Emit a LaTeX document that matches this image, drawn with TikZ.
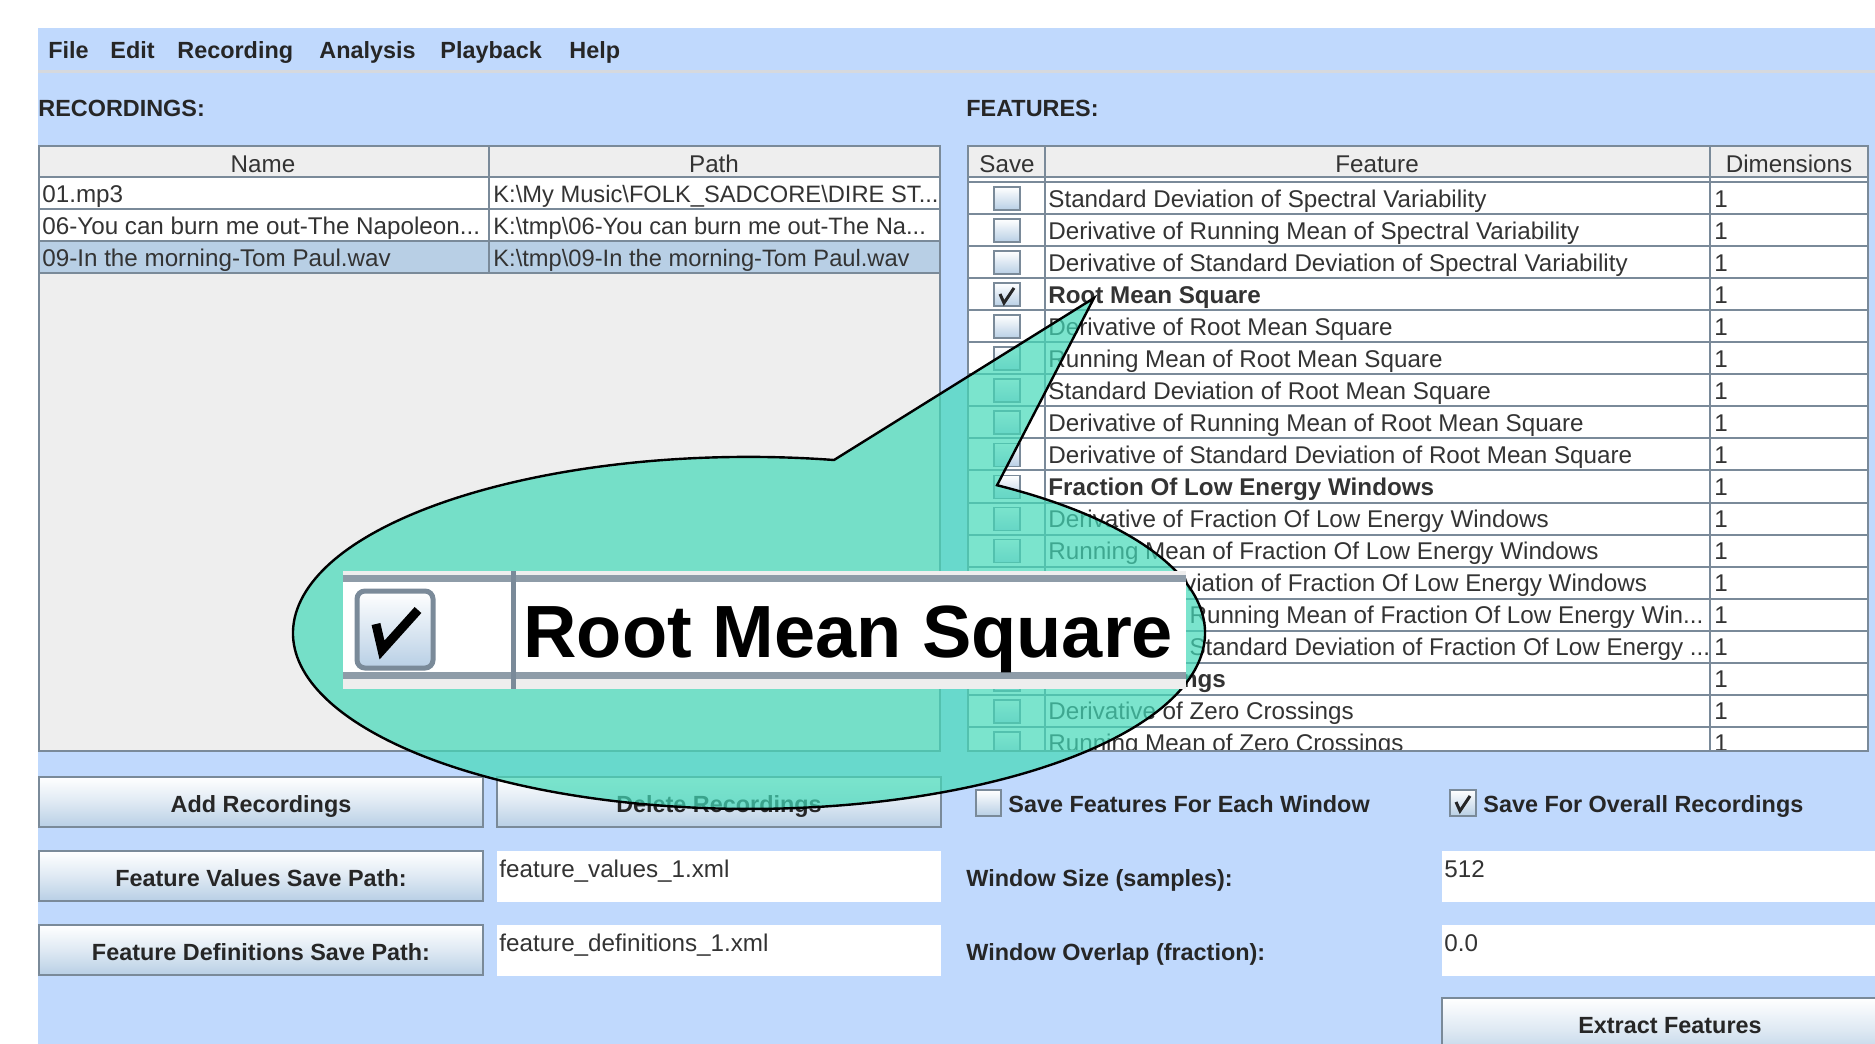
\documentclass[tikz,border=0pt]{standalone}
\usepackage{fontspec}
\setmainfont{Liberation Sans}

\definecolor{panelblue}{RGB}{192,217,253}
\definecolor{gridgray}{RGB}{122,138,153}
\definecolor{headgray}{RGB}{238,238,238}
\definecolor{selblue}{RGB}{184,207,229}
\definecolor{txtgray}{RGB}{51,51,51}
\definecolor{calloutteal}{RGB}{67,217,184}
\definecolor{barline}{RGB}{214,217,222}

% truncation dots (kept out of foreach lists)
\newcommand{\trunc}{.{}.{}.}

\tikzset{
    celltext/.style={anchor=base west, inner sep=0pt, text=txtgray, font=\fontsize{12.1}{14}\selectfont},
    headtext/.style={anchor=base, inner sep=0pt, text=txtgray, font=\fontsize{12.1}{14}\selectfont},
    labeltext/.style={anchor=base west, inner sep=0pt, text=black!85, font=\fontsize{11.7}{14}\selectfont\bfseries},
    btntext/.style={anchor=base, inner sep=0pt, text=black!85, font=\fontsize{11.7}{14}\selectfont\bfseries},
    gridline/.style={draw=gridgray, line width=1pt},
    button/.style={draw=gridgray, line width=1pt, top color=white, bottom color=selblue, middle color=white!55!selblue},
    tickbox/.style={draw=gridgray, line width=0.9pt, top color=white, bottom color=selblue},
    checkmark/.style={draw=black!85, line width=1.5pt},
}

\begin{document}
\begin{tikzpicture}[x=0.5pt, y=-0.5pt]
\useasboundingbox (0,0) rectangle (1875,1044);

% Draw window background
\fill[white] (0,0) rectangle (1875,1044);
\fill[panelblue] (38,28) rectangle (1875,1044);
\draw[barline, line width=1.5pt] (38,71.5) -- (1875,71.5);

% Draw menu bar
\foreach \n/\x/\t in {file/48/File, edit/110/Edit, rec/177/Recording, ana/319/Analysis, play/440/Playback, help/569/Help} {
    \node[labeltext] (menu\n) at (\x,58) {\t};
}

% Draw panel titles
\node[labeltext] (recTitle) at (38,116) {RECORDINGS:};
\node[labeltext] (featTitle) at (966,116) {FEATURES:};

% Draw recordings table
\fill[headgray] (39,146) rectangle (940,751);
\fill[white] (39,177) rectangle (940,241);
\fill[selblue] (39,241) rectangle (940,273);
\foreach \y in {177,209,241,273} {
    \draw[gridline] (39,\y) -- (940,\y);
}
\draw[gridline] (489,146) -- (489,273);
\draw[gridline] (39,146) rectangle (940,751);
\node[headtext] (recName) at (263,172) {Name};
\node[headtext] (recPath) at (714,172) {Path};
\foreach \i/\n/\p in {1/01.mp3/K:\textbackslash My Music\textbackslash FOLK\_SADCORE\textbackslash DIRE ST\trunc,
    2/06-You can burn me out-The Napoleon\trunc/K:\textbackslash tmp\textbackslash 06-You can burn me out-The Na\trunc,
    3/09-In the morning-Tom Paul.wav/K:\textbackslash tmp\textbackslash 09-In the morning-Tom Paul.wav} {
    \node[celltext] (recName\i) at (42,170+32*\i) {\n};
    \node[celltext, font=\fontsize{11.85}{14}\selectfont] (recPath\i) at (493,170+32*\i) {\p};
}

% Draw features table
\fill[headgray] (968,146) rectangle (1868,177);
\fill[white] (968,177) rectangle (1868,751);
\begin{scope}
\clip (968,177) rectangle (1868,751);
\foreach \k in {0,1,2,3,4,5,6,7,8,9,10,11,12,13,14,15,16,17,18} {
    \draw[gridline] (968,182+32.05*\k) -- (1868,182+32.05*\k);
}
\foreach \i/\t in {1/Standard Deviation of Spectral Variability,
    2/Derivative of Running Mean of Spectral Variability,
    3/Derivative of Standard Deviation of Spectral Variability,
    4/\textbf{Root Mean Square},
    5/Derivative of Root Mean Square,
    6/Running Mean of Root Mean Square,
    7/Standard Deviation of Root Mean Square,
    8/Derivative of Running Mean of Root Mean Square,
    9/Derivative of Standard Deviation of Root Mean Square,
    10/\textbf{Fraction Of Low Energy Windows},
    11/Derivative of Fraction Of Low Energy Windows,
    12/Running Mean of Fraction Of Low Energy Windows,
    13/Standard Deviation of Fraction Of Low Energy Windows,
    14/Derivative of Running Mean of Fraction Of Low Energy Win\trunc,
    15/Derivative of Standard Deviation of Fraction Of Low Energy \trunc,
    16/\textbf{Zero Crossings},
    17/Derivative of Zero Crossings,
    18/Running Mean of Zero Crossings} {
    \pgfmathsetmacro\yy{182+32.05*(\i-1)}
    \draw[tickbox] (994,\yy+5) rectangle (1020,\yy+28);
    \node[celltext] (feat\i) at (1048,\yy+25) {\t};
    \node[celltext] (dim\i) at (1714,\yy+25) {1};
}
\end{scope}
\draw[checkmark] (1000,294) -- (1004,303) -- (1014,288);
\draw[gridline, line width=1.4pt] (968,177) -- (1868,177);
\draw[gridline] (1045,146) -- (1045,751);
\draw[gridline] (1710,146) -- (1710,751);
\draw[gridline] (968,146) rectangle (1868,751);
\node[headtext] (featSave) at (1007,172) {Save};
\node[headtext] (featName) at (1377,172) {Feature};
\node[headtext] (featDim) at (1789,172) {Dimensions};

% Draw buttons
\foreach \n/\x/\y/\t in {addBtn/39/777/Add Recordings, delBtn/497/777/Delete Recordings,
    valBtn/39/851/Feature Values Save Path:, defBtn/39/925/Feature Definitions Save Path:} {
    \draw[button] (\x,\y) rectangle ++(444,50);
    \node[btntext] (\n) at (\x+222,\y+35) {\t};
}
\draw[button] (1442,998) rectangle (1900,1060);
\node[btntext] (extractBtn) at (1670,1033) {Extract Features};

% Draw text fields
\foreach \n/\x/\y/\w/\t in {valField/497/851/444/feature\_values\_1.xml, defField/497/925/444/feature\_definitions\_1.xml,
    sizeField/1442/851/460/512, overlapField/1442/925/460/0.0} {
    \fill[white] (\x,\y) rectangle ++(\w,51);
    \node[celltext] (\n) at (\x+2,\y+26) {\t};
}

% Draw options
\node[labeltext] (sizeLabel) at (966,886) {Window Size (samples):};
\node[labeltext] (overlapLabel) at (966,960) {Window Overlap (fraction):};
\draw[tickbox] (976,790) rectangle (1001,816);
\node[labeltext] (eachWindow) at (1008,812) {Save Features For Each Window};
\draw[tickbox] (1450,790) rectangle (1476,816);
\draw[checkmark] (1456,802) -- (1460,811) -- (1470,796);
\node[labeltext] (overall) at (1483,812) {Save For Overall Recordings};

% Draw callout with the magnified row
\filldraw[fill=calloutteal, fill opacity=0.7, draw=black, line width=1.2pt]
    (834,460) arc[start angle=79.26, end angle=417.05, x radius=228pt, y radius=88pt]
    -- (1094,298) -- cycle;
\fill[headgray] (343,571) rectangle (1186,689);
\fill[white] (343,582) rectangle (1186,672);
\fill[gridgray!85] (343,575) rectangle (1186,582);
\fill[gridgray!85] (343,672) rectangle (1186,679);
\fill[gridgray] (511,571) rectangle (516,689);
\draw[tickbox, line width=2.5pt, rounded corners=4pt] (357,591) rectangle (433,668);
\draw[black, line width=4.5pt] (376,624) -- (382,650) -- (418,610);
\node[anchor=base west, inner sep=0pt, font=\fontsize{37}{40}\selectfont\bfseries] (zoomLabel) at (523,657) {Root Mean Square};

\end{tikzpicture}
\end{document}
